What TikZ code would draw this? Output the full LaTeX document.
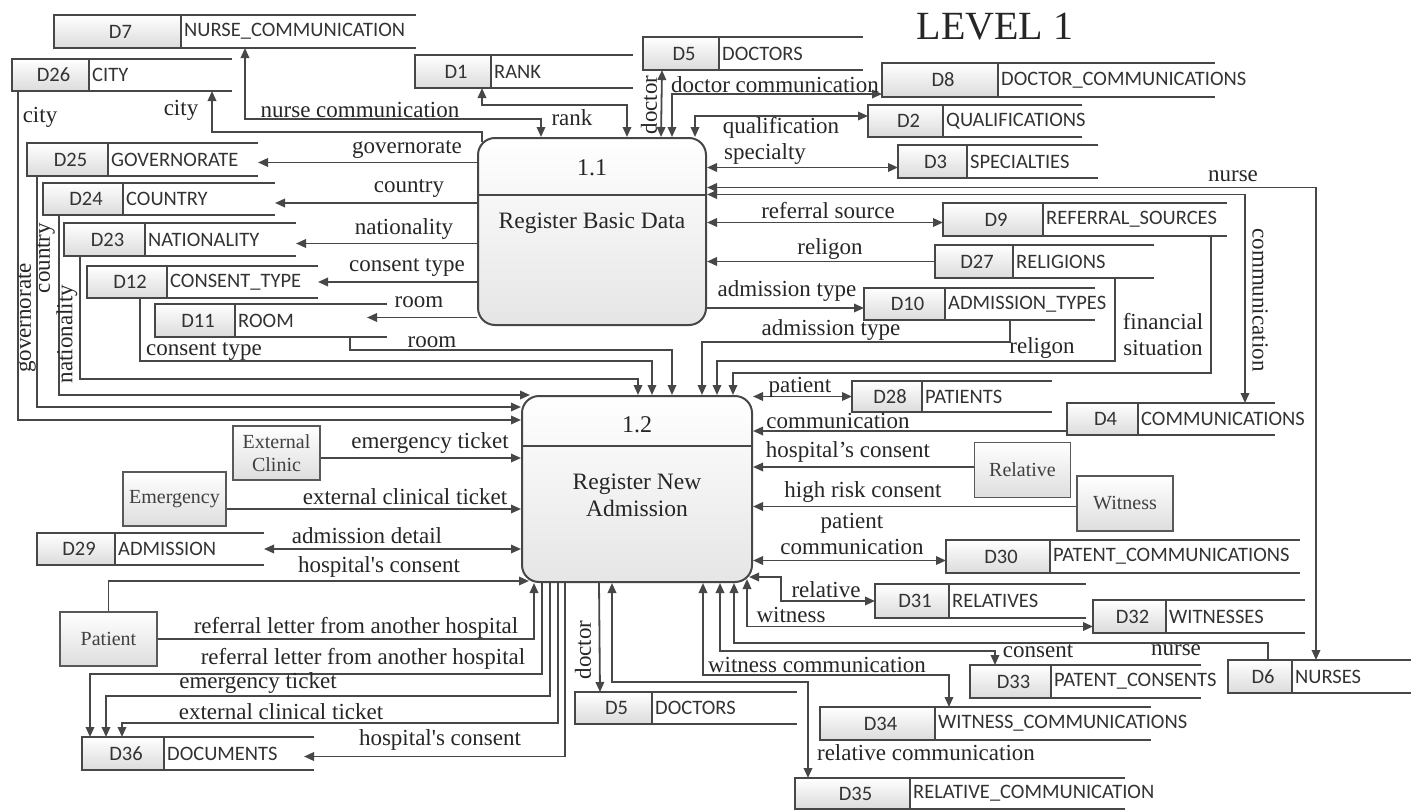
\documentclass[tikz,border=0pt]{standalone}
\usepackage{fontspec}
\setmainfont{Liberation Serif}
\newfontfamily\storefont{Carlito}
\usepackage{tikz}
\usetikzlibrary{arrows.meta,calc}
\definecolor{linec}{HTML}{474747}
\tikzset{
  process/.style={rectangle, rounded corners=17pt, draw=linec, line width=2pt,
    top color=white, bottom color=black!10, inner sep=0pt},
  procid/.style={font=\fontsize{24}{26}\selectfont, text=black!85},
  proctext/.style={font=\fontsize{23.5}{27}\selectfont, align=center, text=black!85},
  extbox/.style={rectangle, draw=black!65, line width=1.6pt, top color=white, bottom color=black!13,
    font=\fontsize{20}{23}\selectfont, text=black!75, align=center, inner sep=0pt},
  storebox/.style={rectangle, draw=none, inner sep=0pt, outer sep=0pt},
  storeid/.style={top color=white, bottom color=black!14},
  storeline/.style={draw=linec, line width=2pt},
  idtext/.style={font=\storefont\fontsize{20.5}{22}\selectfont, text=black!80},
  storetext/.style={anchor=west, font=\storefont\fontsize{20.5}{22}\selectfont, text=black!80, inner sep=3pt},
  lbl/.style={font=\fontsize{23}{26}\selectfont, text=black!85, inner sep=1pt},
  flow/.style={-{Triangle[length=10pt,width=8.5pt]}, draw=linec, line width=1.8pt},
  bflow/.style={{Triangle[length=10pt,width=8.5pt]}-{Triangle[length=10pt,width=8.5pt]}, draw=linec, line width=1.8pt},
}
% name, left, divider, right, top, bottom, id, title
\newcommand{\dstore}[8]{%
  \node[storebox, minimum width={(#4-#2)*1pt}, minimum height={(#6-#5)*1pt}] (#1) at ({(#2+#4)/2},{(#5+#6)/2}) {};
  \path[storeid] (#2,#5) rectangle (#3,#6);
  \draw[storeline] (#4,#5) -- (#2,#5) -- (#2,#6) -- (#4,#6) (#3,#5) -- (#3,#6);
  \node[idtext] (#1-id) at ({(#2+#3)/2+3},{(#5+#6)/2}) {#7};
  \node[storetext] (#1-lbl) at (#3,{(#5+#6)/2}) {#8};
}

\begin{document}
\begin{tikzpicture}[x=1pt, y=-1pt]
  \useasboundingbox (0,0) rectangle (1417,811);
  \node[font=\fontsize{40}{42}\selectfont, text=black!85] (title) at (995,27) {LEVEL 1};

  \node[process, minimum width=228, minimum height=187] (p11) at (592,231.5) {};
  \draw[storeline] ([yshift=-58]p11.north west) -- ([yshift=-58]p11.north east);
  \node[procid] (p11-id) at (592,168) {1.1};
  \node[proctext] (p11-name) at (592,223) {Register Basic Data};

  \node[process, minimum width=230, minimum height=186] (p12) at (637,489) {};
  \draw[storeline] ([yshift=-51]p12.north west) -- ([yshift=-51]p12.north east);
  \node[procid] (p12-id) at (637,425) {1.2};
  \node[proctext] (p12-name) at (637,495) {Register New\\Admission};

  \node[extbox, minimum width=87, minimum height=54] (clinic) at (276.5,453) {External\\Clinic};
  \node[extbox, minimum width=103, minimum height=54] (emerg) at (174.5,499) {Emergency};
  \node[extbox, minimum width=97, minimum height=54] (patient) at (108.5,639) {Patient};
  \node[extbox, minimum width=96, minimum height=55] (relative) at (1022.5,470) {Relative};
  \node[extbox, minimum width=96, minimum height=55] (witness) at (1125,503.5) {Witness};

  \dstore{d7}{54}{181}{416}{15}{48}{D7}{NURSE\_COMMUNICATION}
  \dstore{d26}{12}{89}{232}{59}{91}{D26}{CITY}
  \dstore{d1}{415}{491}{633}{55}{88}{D1}{RANK}
  \dstore{d5a}{643}{719}{863}{37}{70}{D5}{DOCTORS}
  \dstore{d8}{882}{998}{1215}{63}{97}{D8}{DOCTOR\_COMMUNICATIONS}
  \dstore{d2}{868}{943}{1082}{105}{137}{D2}{QUALIFICATIONS}
  \dstore{d3}{898}{967}{1098}{145}{178}{D3}{SPECIALTIES}
  \dstore{d25}{27}{108}{258}{143}{176}{D25}{GOVERNORATE}
  \dstore{d24}{43}{123}{275}{183}{215}{D24}{COUNTRY}
  \dstore{d23}{64}{145}{296}{223}{256}{D23}{NATIONALITY}
  \dstore{d12}{87}{167}{318}{266}{298}{D12}{CONSENT\_TYPE}
  \dstore{d11}{155}{235}{387}{304}{337}{D11}{ROOM}
  \dstore{d9}{943}{1043}{1227}{203}{236}{D9}{REFERRAL\_SOURCES}
  \dstore{d27}{935}{1013}{1154}{245}{278}{D27}{RELIGIONS}
  \dstore{d10}{864}{945}{1095}{288}{320}{D10}{ADMISSION\_TYPES}
  \dstore{d28}{852}{922}{1052}{381}{412}{D28}{PATIENTS}
  \dstore{d4}{1067}{1138}{1275}{403}{435}{D4}{COMMUNICATIONS}
  \dstore{d30}{946}{1050}{1300}{540}{573}{D30}{PATENT\_COMMUNICATIONS}
  \dstore{d31}{875}{949}{1086}{584}{618}{D31}{RELATIVES}
  \dstore{d32}{1093}{1166}{1305}{600}{633}{D32}{WITNESSES}
  \dstore{d33}{970}{1051}{1201}{665}{698}{D33}{PATENT\_CONSENTS}
  \dstore{d6}{1228}{1292}{1411}{660}{693}{D6}{NURSES}
  \dstore{d34}{820}{935}{1151}{707}{740}{D34}{WITNESS\_COMMUNICATIONS}
  \dstore{d35}{795}{910}{1125}{778}{809}{D35}{RELATIVE\_COMMUNICATION}
  \dstore{d5b}{575}{652}{797}{692}{724}{D5}{DOCTORS}
  \dstore{d29}{37}{115}{264}{533}{565}{D29}{ADMISSION}
  \dstore{d36}{82}{164}{314}{737}{770}{D36}{DOCUMENTS}

  \draw[bflow] ([xshift=64]p11.north west) -- ++(0,-18) -| ([xshift=191]d7.south west);
  \draw[bflow] ([xshift=150]p11.north west) -- ++(0,-32) -| ([xshift=67]d1.south west);
  \draw[flow] ([xshift=5,yshift=-5]p11.north west) -- ++(0,-10) -| ([xshift=200]d26.south west);
  \draw[bflow] ([xshift=184]p11.north west) -- ([xshift=19]d5a.south west);
  \draw[bflow] ([xshift=195]p11.north west) |- ($(d8.west)+(0,14)$);
  \draw[bflow] ([xshift=218]p11.north west) |- ($(d2.west)+(0,-5)$);
  \draw[bflow] ($(p11.east |- d3.west)+(0,6)$) -- ($(d3.west)+(0,6)$);
  \draw[bflow] ([yshift=44]p11.east) -| ([xshift=88]d6.north west);
  \draw[bflow] ([yshift=37]p11.east) -| ([xshift=178]d4.north west);
  \draw[bflow] ($(p11.east |- d9.west)+(0,3)$) -- ($(d9.west)+(0,3)$);
  \draw[flow] (d27.west) -- (p11.east |- d27.west);
  \draw[flow] ($(p11.east |- d10.west)+(0,4)$) -- ($(d10.west)+(0,4)$);

  \draw[flow] ($(p11.west |- d25.east)+(0,3)$) -- ($(d25.east)+(0,3)$);
  \draw[flow] ($(p11.west |- d24.east)+(0,4)$) -- ($(d24.east)+(0,4)$);
  \draw[flow] ($(p11.west |- d23.east)+(0,4)$) -- ($(d23.east)+(0,4)$);
  \draw[flow] (p11.west |- d12.east) -- (d12.east);
  \draw[flow] ($(p11.west |- d11.east)+(0,-3)$) -- ($(d11.east)+(-20,-3)$);

  \draw[flow] ([xshift=6]d26.south west) |- ([yshift=-25]p12.north west);
  \draw[flow] ([xshift=10]d25.south west) |- ([yshift=-12]p12.north west);
  \draw[flow] ([xshift=16]d24.south west) |- ([xshift=9]p12.north west);
  \draw[flow] ([xshift=16]d23.south west) |- ([xshift=117,yshift=16]p12.north west) -- ([xshift=117]p12.north west);
  \draw[flow] ([xshift=53]d12.south west) |- ([xshift=131,yshift=34]p12.north west) -- ([xshift=131]p12.north west);
  \draw[flow] ([xshift=195]d11.south west) |- ([xshift=151,yshift=45]p12.north west) -- ([xshift=151]p12.north west);
  \draw[flow] ([xshift=146]d10.south west) |- ([xshift=181,yshift=53]p12.north west) -- ([xshift=181]p12.north west);
  \draw[flow] ([xshift=180]d27.south west) |- ([xshift=196,yshift=34]p12.north west) -- ([xshift=196]p12.north west);
  \draw[flow] ([xshift=268]d9.south west) |- ([xshift=212,yshift=22]p12.north west) -- ([xshift=212]p12.north west);

  \draw[bflow] (d28.west -| p12.east) -- (d28.west);
  \draw[flow] ($(d4.west)+(0,12)$) -- ($(d4.west -| p12.east)+(0,12)$);
  \draw[flow] ($(relative.west)+(0,-3)$) -- ($(relative.west -| p12.east)+(0,-3)$);
  \draw[flow] ($(witness.west)+(0,3)$) -- ($(witness.west -| p12.east)+(0,3)$);
  \draw[bflow] ($(p12.east |- d30.west)+(0,4)$) -- ($(d30.west)+(0,4)$);
  \draw[bflow] ([xshift=-4,yshift=6]p12.south east) -- ++(32,0) |- (d31.west);
  \draw[bflow] ([xshift=-6,yshift=4]p12.south east) |- ($(d32.west)+(0,10)$);
  \draw[flow] ([xshift=40]d6.north west) |- ([xshift=-19,yshift=-60]p12.south east) -- ([xshift=-19]p12.south east);
  \draw[bflow] ([xshift=-33]p12.south east) |- ([xshift=25,yshift=14]d33.north west) -- ([xshift=25]d33.north west);
  \draw[bflow] ([xshift=-50]p12.south east) |- ([xshift=129,yshift=32]d34.north west) -- ([xshift=129]d34.north west);
  \draw[bflow] ([xshift=91]p12.south west) |- ([xshift=13,yshift=96]d35.north west) -- ([xshift=13]d35.north west);
  \draw[flow] ([xshift=78]p12.south west) -- ([xshift=25]d5b.north west);

  \draw[flow] ($(clinic.east)+(0,5)$) -- ($(clinic.east -| p12.west)+(0,5)$);
  \draw[flow] ($(emerg.east)+(0,10)$) -- ($(emerg.east -| p12.west)+(0,10)$);
  \draw[bflow] (d29.east) -- (d29.east -| p12.west);
  \draw[flow] (patient.north) |- ([xshift=8,yshift=2]p12.south west);
  \draw[flow] (patient.east) -| ([xshift=13]p12.south west);
  \draw[flow] ([xshift=21]p12.south west) |- ([xshift=8,yshift=63]d36.north west) -- ([xshift=8]d36.north west);
  \draw[flow] ([xshift=29]p12.south west) |- ([xshift=24,yshift=41]d36.north west) -- ([xshift=24]d36.north west);
  \draw[flow] ([xshift=37]p12.south west) |- ([xshift=40,yshift=14]d36.north west) -- ([xshift=40]d36.north west);
  \draw[flow] ([xshift=44]p12.south west) |- ($(d36.east)+(-10,3)$);

  \node[lbl] (l-nursecomm) at (360,110) {nurse communication};
  \node[lbl] (l-rank) at (572,118) {rank};
  \node[lbl] (l-city1) at (181,110) {city};
  \node[lbl] (l-city2) at (40,117) {city};
  \node[lbl, rotate=90] (l-doctor1) at (649,105) {doctor};
  \node[lbl] (l-doccomm) at (775,85) {doctor communication};
  \node[lbl] (l-qual) at (781,128) {qualification};
  \node[lbl] (l-spec) at (765,154) {specialty};
  \node[lbl] (l-nurse1) at (1233,176) {nurse};
  \node[lbl, rotate=-90] (l-comm1) at (1260,300) {communication};
  \node[lbl] (l-refsrc) at (828,211) {referral source};
  \node[lbl] (l-relig1) at (830,249) {religon};
  \node[lbl] (l-admtype1) at (787,291) {admission type};
  \node[lbl] (l-admtype2) at (831,330) {admission type};
  \node[lbl] (l-relig2) at (1042,348) {religon};
  \node[lbl, align=center] (l-fin) at (1163,335) {financial\\situation};
  \node[lbl] (l-gov1) at (407,150) {governorate};
  \node[lbl] (l-country1) at (409,189) {country};
  \node[lbl] (l-nat1) at (404,229) {nationality};
  \node[lbl] (l-cons1) at (407,268) {consent type};
  \node[lbl] (l-room1) at (419,302) {room};
  \node[lbl] (l-room2) at (432,342) {room};
  \node[lbl] (l-cons2) at (204,352) {consent type};
  \node[lbl, rotate=90] (l-gov2) at (27,318) {governorate};
  \node[lbl, rotate=90] (l-country2) at (46,258) {country};
  \node[lbl, rotate=90] (l-nat2) at (67,334) {nationality};
  \node[lbl] (l-patient) at (800,387) {patient};
  \node[lbl] (l-comm2) at (838,421) {communication};
  \node[lbl] (l-hosp1) at (848,452) {hospital’s consent};
  \node[lbl] (l-high) at (863,492) {high risk consent};
  \node[lbl, align=center] (l-patcomm) at (852,534) {patient\\communication};
  \node[lbl] (l-rel) at (826,590) {relative};
  \node[lbl] (l-wit) at (791,615) {witness};
  \node[lbl] (l-consent) at (1038,651) {consent};
  \node[lbl] (l-nurse2) at (1176,650) {nurse};
  \node[lbl] (l-witcomm) at (817,665) {witness communication};
  \node[lbl] (l-relcomm) at (926,753) {relative communication};
  \node[lbl, rotate=90] (l-doctor2) at (583,650) {doctor};
  \node[lbl] (l-emtick1) at (430,443) {emergency ticket};
  \node[lbl] (l-extick1) at (405,497) {external clinical ticket};
  \node[lbl] (l-admdet) at (367,536) {admission detail};
  \node[lbl] (l-hosp2) at (379,567) {hospital\textquotesingle s consent};
  \node[lbl] (l-ref1) at (356,628) {referral letter from another hospital};
  \node[lbl] (l-ref2) at (363,659) {referral letter from another hospital};
  \node[lbl] (l-emtick2) at (258,683) {emergency ticket};
  \node[lbl] (l-extick2) at (281,712) {external clinical ticket};
  \node[lbl] (l-hosp3) at (440,740) {hospital\textquotesingle s consent};
\end{tikzpicture}
\end{document}
